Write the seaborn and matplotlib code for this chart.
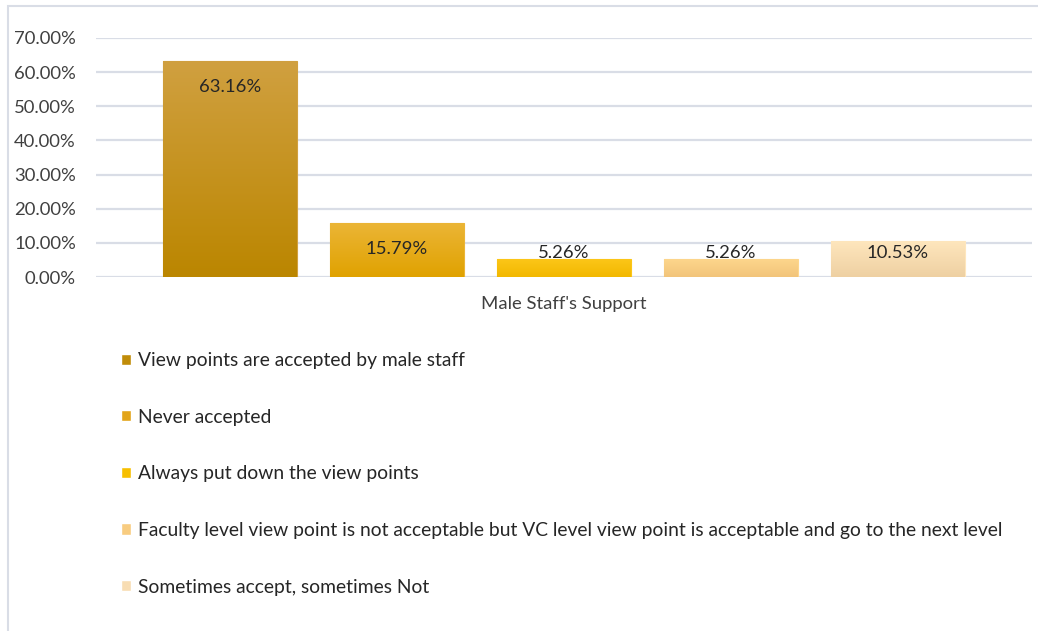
import numpy as np
import pandas as pd
import matplotlib
matplotlib.use("Agg")
import matplotlib.pyplot as plt
import matplotlib.colors as mcolors
from matplotlib.patches import Rectangle
import seaborn as sns

# ---- data ----
group_label = "Male Staff's Support"
responses = [
    "View points are accepted by male staff",
    "Never accepted",
    "Always put down the view points",
    "Faculty level view point is not acceptable but VC level view point is acceptable and go to the next level",
    "Sometimes accept, sometimes Not",
]
values = [63.16, 15.79, 5.26, 5.26, 10.53]
y_ticks = [0, 10, 20, 30, 40, 50, 60, 70]

# ---- styles ----
base_colors = ["#c08c08", "#e2a418", "#f7bf00", "#f8cc80", "#f8ddb3"]
top_colors = ["#d0a040", "#ebb536", "#fcc618", "#fdd68c", "#fee6bd"]
bottom_colors = ["#bb8600", "#e0a200", "#f2b800", "#f2c47a", "#eed0a2"]
grid_color = "#d9dde6"
FS = 13.85
FS_TICK = 13.3

sns.set_theme(style="white")
plt.rcParams["font.family"] = ["Lato", "DejaVu Sans"]

df = pd.DataFrame({"group": [group_label] * len(values),
                   "response": responses,
                   "value": values})

fig = plt.figure(figsize=(10.38, 6.31), dpi=100)
W, H = 1038, 631
ax = fig.add_axes([96 / W, (H - 277) / H, (1032 - 96) / W, (277 - 38) / H])

sns.barplot(data=df, x="group", y="value", hue="response", hue_order=responses,
            palette=base_colors, saturation=1, width=0.892, gap=0.2,
            ax=ax, legend=True, zorder=3)

ax.set_xlim(-0.5, 0.5)
ax.set_ylim(0, 70)
ax.set_yticks(y_ticks)
ax.set_yticklabels([f"{t:.2f}%" for t in y_ticks], fontsize=FS_TICK, color="#404040")
ax.tick_params(axis="y", length=0, pad=14.4)
ax.tick_params(axis="x", length=0, pad=13.5, labelsize=FS_TICK, labelcolor="#404040")
ax.set_xlabel("")
ax.set_ylabel("")
for s in ax.spines.values():
    s.set_visible(False)
ax.yaxis.grid(True, color=grid_color, linewidth=1.6, zorder=0)
ax.set_axisbelow(True)

# gradient fills + labels
px_per_unit = (277 - 38) / 70.0
for i, cont in enumerate(ax.containers):
    for bar in cont:
        x0, w, h = bar.get_x(), bar.get_width(), bar.get_height()
        cmap = mcolors.LinearSegmentedColormap.from_list(
            f"g{i}", [bottom_colors[i], top_colors[i]])
        grad = np.linspace(1, 0, 256).reshape(-1, 1)
        im = ax.imshow(grad, cmap=cmap, extent=[x0, x0 + w, 0, h],
                       aspect="auto", zorder=3.5, interpolation="bicubic")
        im.set_clip_path(bar)
        bar.set_edgecolor(top_colors[i])
        bar.set_linewidth(0.8)
        ypos = max(h - 26 / px_per_unit, 24 / px_per_unit)
        ax.text(x0 + w / 2, ypos, f"{h:.2f}%", ha="center", va="center",
                fontsize=FS_TICK, color="#262626", zorder=5)

ax.set_xlim(-0.5, 0.5)
ax.set_ylim(0, 70)

# legend
handles, labels = ax.get_legend_handles_labels()
ax.legend(handles, labels, loc="upper left",
          bbox_to_anchor=(121 / W, (H - 352) / H), bbox_transform=fig.transFigure,
          frameon=False, fontsize=FS, handlelength=0.52, handleheight=0.52,
          handletextpad=0.36, labelspacing=2.06, borderpad=0, borderaxespad=0,
          labelcolor="#262626")

# outer chart border
fig.patches.append(Rectangle((8 / W, -0.1), 1.2, (H - 6) / H + 0.1,
                             transform=fig.transFigure, fill=False,
                             edgecolor=grid_color, linewidth=1.5))

fig.savefig("out.png", dpi=100, facecolor="white")
